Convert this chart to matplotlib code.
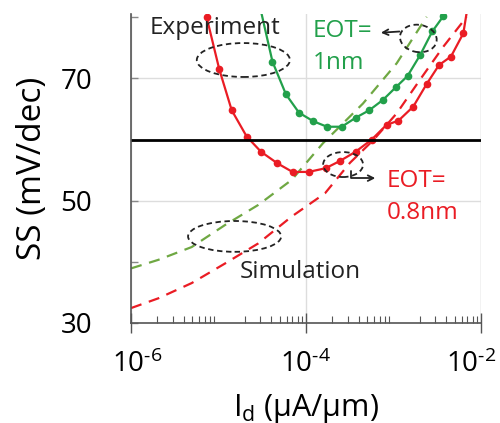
import numpy as np
import matplotlib
matplotlib.use("Agg")
import matplotlib.pyplot as plt
import matplotlib.transforms as mtransforms
from matplotlib.patches import Ellipse
from matplotlib.ticker import LogLocator, FixedLocator, NullFormatter

plt.rcParams['font.family'] = ['Open Sans', 'DejaVu Sans']
plt.rcParams['mathtext.fontset'] = 'custom'
plt.rcParams['mathtext.rm'] = 'Open Sans'
plt.rcParams['mathtext.it'] = 'Open Sans:italic'

# experiment, EOT = 0.8 nm (log10 Id, SS)
exp08_logi = [-5.135, -4.991, -4.849, -4.678, -4.514, -4.326, -4.154, -3.971, -3.777,
              -3.611, -3.434, -3.249, -3.080, -2.943, -2.774, -2.621, -2.480, -2.343,
              -2.202, -2.150]
exp08_ss = [80.0, 71.5, 64.8, 60.5, 58.0, 56.1, 54.7, 54.7, 55.3,
            56.5, 58.0, 60.0, 62.4, 63.1, 65.4, 69.1, 72.2, 73.6,
            77.4, 82.0]

# experiment, EOT = 1 nm
exp1_logi = [-4.53, -4.383, -4.229, -4.080, -3.917, -3.760, -3.592, -3.429, -3.277,
             -3.120, -2.971, -2.840, -2.697, -2.557, -2.431]
exp1_ss = [82.0, 72.75, 67.4, 64.4, 63.0, 62.1, 62.1, 63.6, 64.8,
           66.5, 68.6, 70.4, 73.8, 77.7, 80.2]

# simulation
sim1_logi = [-6.0, -5.688, -5.306, -4.926, -4.545, -4.163, -3.806, -3.349, -2.963, -2.621]
sim1_ss = [38.9, 40.3, 42.4, 46.0, 49.3, 53.4, 59.4, 65.9, 72.5, 80.1]
sim08_logi = [-6.0, -5.688, -5.306, -4.926, -4.545, -4.163, -3.783, -3.497, -3.231,
              -2.963, -2.697, -2.431, -2.163]
sim08_ss = [32.4, 34.0, 36.5, 39.7, 43.0, 47.4, 51.2, 56.2, 59.9,
            64.3, 69.8, 75.2, 80.1]

xtick_vals = [1e-6, 1e-4, 1e-2]
xtick_labels = ['$10^{\u2010' + '6}$', '$10^{\u2010' + '4}$', '$10^{\u2010' + '2}$']

red = '#ea1c24'
green = '#22a04b'
green_sim = '#6fa843'

fig = plt.figure(figsize=(5, 4.23), dpi=100)
ax = fig.add_axes([0.262, 0.237, 0.700, 0.729])

ax.plot(10 ** np.array(sim1_logi), sim1_ss, color=green_sim, lw=1.6, dashes=(5, 3.5))
ax.plot(10 ** np.array(sim08_logi), sim08_ss, color=red, lw=1.6, dashes=(5, 3.5))
ax.plot(10 ** np.array(exp1_logi), exp1_ss, color=green, lw=1.6, marker='o', ms=4.5)
ax.plot(10 ** np.array(exp08_logi), exp08_ss, color=red, lw=1.6, marker='o', ms=4.5)
ax.axhline(60, color='black', lw=2)

ax.set_xscale('log')
ax.set_xlim(1e-6, 1e-2)
ax.set_ylim(30, 80.5)

ax.xaxis.set_major_locator(FixedLocator(xtick_vals))
ax.xaxis.set_minor_locator(LogLocator(base=10, subs=np.arange(2, 10)))
ax.xaxis.set_minor_formatter(NullFormatter())
ax.set_xticklabels(xtick_labels)
ax.yaxis.set_major_locator(FixedLocator([30, 50, 70]))
ax.yaxis.set_minor_locator(FixedLocator([40, 60, 80]))

ax.tick_params(axis='x', which='major', direction='inout', length=14, width=1,
               color='#555555', labelsize=20, pad=13)
ax.tick_params(axis='x', which='minor', direction='in', length=5, width=0.8, color='#555555')
ax.tick_params(axis='y', which='both', direction='in', length=5, width=1,
               color='#888888', labelsize=20, pad=28)

# nudge the end labels inwards like the original
shifts = [6, 0, -10]
for lab, dx in zip(ax.get_xticklabels(), shifts):
    lab.set_transform(lab.get_transform() +
                      mtransforms.ScaledTranslation(dx / 100, 0, fig.dpi_scale_trans))

ax.grid(True, which='major', color='#dddddd', lw=1)
for s in ['top', 'right']:
    ax.spines[s].set_visible(False)
for s in ['left', 'bottom']:
    ax.spines[s].set_color('#555555')
    ax.spines[s].set_linewidth(1.2)
# grid line at right edge
ax.axvline(1e-2, color='#dddddd', lw=1, zorder=0)

ax.set_ylabel('SS (mV/dec)', fontsize=24, labelpad=8)
ax.set_xlabel(r'I$_\mathrm{d}$ (μA/μm)', fontsize=22, labelpad=9)

# annotations
ax.text(0.054, 0.956, 'Experiment', transform=ax.transAxes, fontsize=17.5,
        ha='left', va='center', color='#222222')
ax.text(0.311, 0.164, 'Simulation', transform=ax.transAxes, fontsize=17.5,
        ha='left', va='center', color='#222222')
ax.text(0.52, 0.893, 'EOT=\n1nm', transform=ax.transAxes, fontsize=17.5,
        ha='left', va='center', color=green, linespacing=1.45)
ax.text(0.731, 0.409, 'EOT=\n0.8nm', transform=ax.transAxes, fontsize=17.5,
        ha='left', va='center', color=red, linespacing=1.45)

ell_kw = dict(fill=False, ls=(0, (3, 2)), lw=1.3, ec='#222222',
              transform=ax.transAxes, zorder=5)
ax.add_patch(Ellipse((0.321, 0.852), 0.266, 0.110, **ell_kw))
ax.add_patch(Ellipse((0.296, 0.280), 0.266, 0.100, **ell_kw))
ax.add_patch(Ellipse((0.821, 0.922), 0.106, 0.088, angle=-15, **ell_kw))
ax.add_patch(Ellipse((0.606, 0.513), 0.114, 0.081, **ell_kw))

ax.annotate('', xy=(0.706, 0.940), xytext=(0.775, 0.945), xycoords='axes fraction',
            arrowprops=dict(arrowstyle='->', color='#222222', lw=1.3))
ax.annotate('', xy=(0.706, 0.469), xytext=(0.629, 0.500), xycoords='axes fraction',
            arrowprops=dict(arrowstyle='->', color='#222222', lw=1.3,
                            connectionstyle='angle,angleA=90,angleB=0,rad=0'))

fig.savefig('out.png', dpi=100)
